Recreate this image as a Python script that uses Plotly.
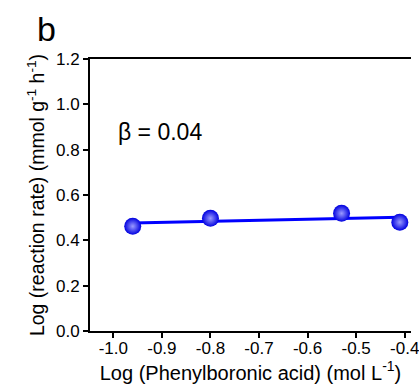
import numpy as np
import plotly.graph_objects as go

x_vals = [-0.96, -0.80, -0.53, -0.41]
y_vals = [0.462, 0.497, 0.519, 0.480]
x_ticks = [-1.0, -0.9, -0.8, -0.7, -0.6, -0.5, -0.4]
x_ticktext = ["-1.0", "-0.9", "-0.8", "-0.7", "-0.6", "-0.5", "-0.4"]
y_ticks = [0.0, 0.2, 0.4, 0.6, 0.8, 1.0, 1.2]
y_ticktext = ["0.0", "0.2", "0.4", "0.6", "0.8", "1.0", "1.2"]

slope, intercept = np.polyfit(x_vals, y_vals, 1)
fit_x = [x_vals[0], x_vals[-1]]
fit_y = [slope * v + intercept for v in fit_x]

fig = go.Figure()
fig.add_trace(go.Scatter(x=fit_x, y=fit_y, mode="lines",
                         line=dict(color="#0000ff", width=3), showlegend=False))
fig.add_trace(go.Scatter(x=x_vals, y=y_vals, mode="markers",
                         marker=dict(size=17, color="#0000e0",
                                     gradient=dict(type="radial", color="#9a9aff"),
                                     line=dict(width=0)),
                         showlegend=False))

font = "Liberation Sans, Arial, sans-serif"
fig.update_layout(
    width=419, height=392,
    margin=dict(l=90, r=0, t=59, b=61),
    plot_bgcolor="white", paper_bgcolor="white",
    font=dict(family=font, size=17, color="black"),
    xaxis=dict(range=[-1.048, -0.387], tickvals=x_ticks, ticktext=x_ticktext,
               showgrid=False, zeroline=False, showline=True, linecolor="black",
               linewidth=2, mirror=True, ticks="outside", ticklen=5, tickwidth=1.5,
               tickcolor="black", tickfont=dict(size=17), ticklabeloverflow="allow",
               ticklabelstandoff=-4,
               title=dict(text="Log (Phenylboronic acid) (mol L<sup>-1</sup>)",
                          font=dict(size=20), standoff=5)),
    yaxis=dict(range=[0, 1.2], tickvals=y_ticks, ticktext=y_ticktext,
               showgrid=False, zeroline=False, showline=True, linecolor="black",
               linewidth=2, ticks="outside", ticklen=5, tickwidth=1.5,
               tickcolor="black", tickfont=dict(size=17),
               title=dict(text="Log (reaction rate) (mmol g<sup>-1</sup> h<sup>-1</sup>)",
                          font=dict(size=19.5), standoff=6)),
    annotations=[
        dict(text="b", x=(45 - 90) / 329, y=1 + (59 - 29) / 272,
             xref="paper", yref="paper", showarrow=False,
             xanchor="center", yanchor="middle",
             font=dict(size=34, color="black")),
        dict(text="β = 0.04", x=-1.0 + (117 - 114) / 498, y=(331 - 132) / 226.7,
             xref="x", yref="y", showarrow=False,
             xanchor="left", yanchor="middle", font=dict(size=23, color="black")),
    ],
)
fig.write_html("out.html")
